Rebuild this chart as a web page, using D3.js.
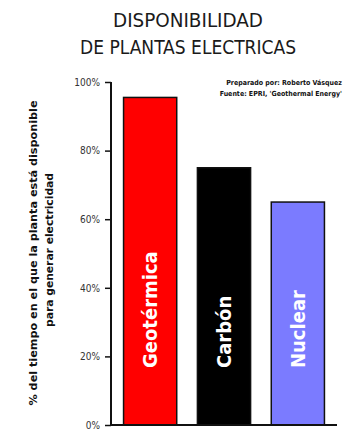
<!DOCTYPE html>
<html lang="es">
<head>
    <meta charset="UTF-8">
    <title>Disponibilidad de plantas electricas</title>
    <script src="https://d3js.org/d3.v7.min.js"></script>
    <style>
        body { margin: 0; background: #fff; }
        text { font-family: "DejaVu Sans Condensed", "DejaVu Sans", sans-serif; }
    </style>
</head>
<body>
    <div id="chart"></div>
    <script>
        const categories = ["Geotérmica", "Carbón", "Nuclear"];
        const values = [95.5, 75, 65];
        const barColors = ["#ff0000", "#000000", "#7b7bff"];
        const yTicks = [0, 20, 40, 60, 80, 100];
        const titleLines = ["DISPONIBILIDAD", "DE PLANTAS ELECTRICAS"];
        const yTitleLines = ["% del tiempo en el que la planta está disponible", "para generar electricidad"];
        const sourceLines = ["Preparado por: Roberto Vásquez", "Fuente: EPRI, 'Geothermal Energy'"];

        const width = 345;
        const height = 434;
        const margin = {top: 82, right: 8, bottom: 9, left: 111};

        const svg = d3.select("#chart")
            .append("svg")
            .attr("width", width)
            .attr("height", height);

        const x = d3.scaleBand()
            .domain(categories)
            .range([margin.left, width - margin.right])
            .paddingInner(0.28)
            .paddingOuter(0.17);

        const y = d3.scaleLinear()
            .domain([0, 100])
            .range([height - margin.bottom, margin.top]);

        // title
        svg.append("g")
            .selectAll("text")
            .data(titleLines)
            .join("text")
            .attr("x", 188)
            .attr("y", (d, i) => 27 + i * 27)
            .attr("text-anchor", "middle")
            .attr("font-size", 20)
            .attr("fill", "#1a1a1a")
            .attr("textLength", (d, i) => i === 0 ? 150 : 216)
            .attr("lengthAdjust", "spacingAndGlyphs")
            .text(d => d);

        // bars
        svg.append("g")
            .selectAll("rect")
            .data(categories)
            .join("rect")
            .attr("x", d => x(d))
            .attr("y", (d, i) => y(values[i]))
            .attr("width", x.bandwidth())
            .attr("height", (d, i) => y(0) - y(values[i]))
            .attr("fill", (d, i) => barColors[i])
            .attr("stroke", "#111")
            .attr("stroke-width", 1.5);

        // bar labels
        svg.append("g")
            .selectAll("text")
            .data(categories)
            .join("text")
            .attr("transform", d => `translate(${x(d) + x.bandwidth() / 2 + 7},${y(0) - 57}) rotate(-90)`)
            .attr("font-size", 20)
            .attr("font-weight", "bold")
            .attr("fill", "#fff")
            .text(d => d);

        // y axis
        const yAxis = svg.append("g")
            .attr("transform", `translate(${margin.left},0)`)
            .call(d3.axisLeft(y).tickValues(yTicks).tickFormat(d => d + "%").tickSize(6).tickPadding(5));
        yAxis.select(".domain").attr("stroke", "#111").attr("stroke-width", 2).attr("d", `M0,${margin.top}V${y(0)}`);
        yAxis.selectAll(".tick line").attr("stroke", "#111").attr("stroke-width", 1.5);
        yAxis.selectAll(".tick text")
            .attr("font-size", 10)
            .attr("fill", "#333")
            .attr("font-family", "\"DejaVu Sans Condensed\", sans-serif");

        // baseline
        svg.append("line")
            .attr("x1", margin.left)
            .attr("x2", width - margin.right)
            .attr("y1", y(0))
            .attr("y2", y(0))
            .attr("stroke", "#111")
            .attr("stroke-width", 2);

        // y axis title
        svg.append("g")
            .selectAll("text")
            .data(yTitleLines)
            .join("text")
            .attr("transform", (d, i) => `translate(${37 + i * 16},${(i === 0 ? 253 : 250)}) rotate(-90)`)
            .attr("text-anchor", "middle")
            .attr("font-size", 11)
            .attr("font-weight", "bold")
            .attr("fill", "#111")
            .attr("textLength", (d, i) => i === 0 ? 305 : 154)
            .attr("lengthAdjust", "spacingAndGlyphs")
            .text(d => d);

        // source note
        svg.append("g")
            .selectAll("text")
            .data(sourceLines)
            .join("text")
            .attr("x", 342)
            .attr("y", (d, i) => 85 + i * 11)
            .attr("text-anchor", "end")
            .attr("font-size", 7)
            .attr("font-weight", "bold")
            .attr("fill", "#111")
            .text(d => d);
    </script>
</body>
</html>
